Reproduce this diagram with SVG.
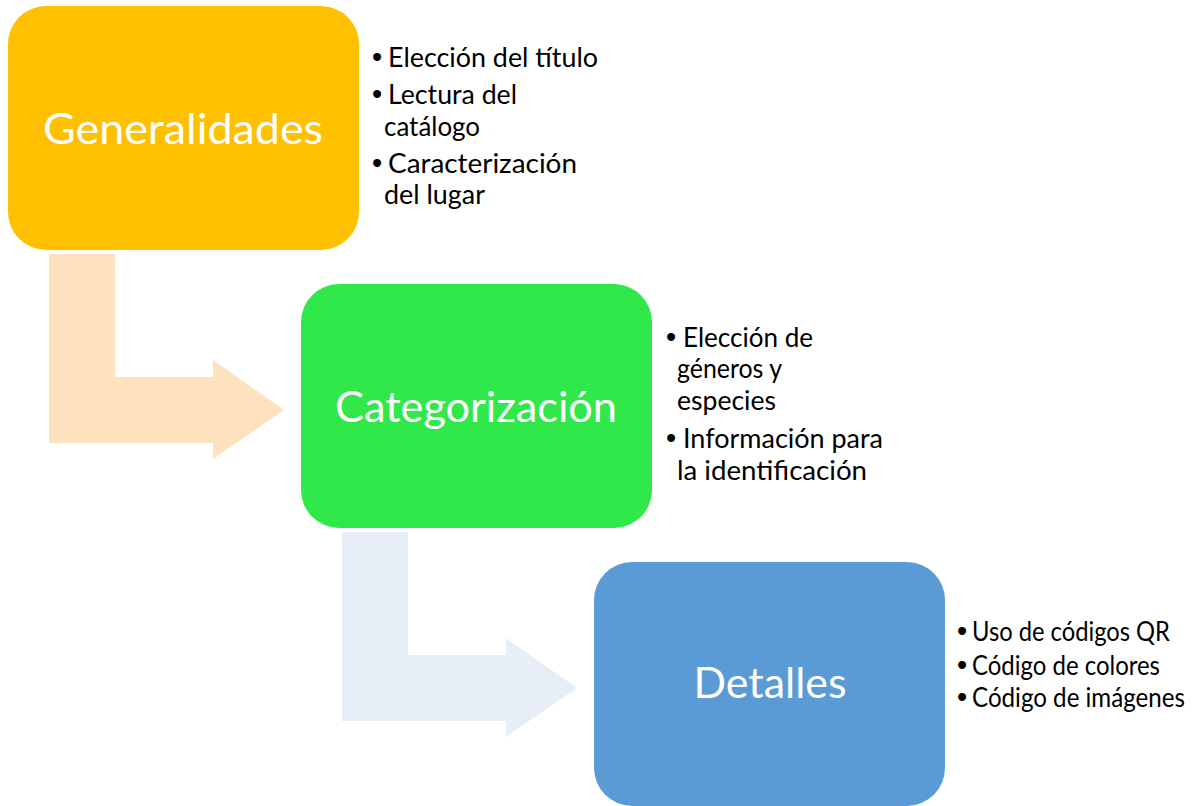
<svg xmlns="http://www.w3.org/2000/svg" width="1196" height="806" viewBox="0 0 1196 806">
  <style>
    .title { font-family: Lato, "Open Sans", sans-serif; font-size: 42px; fill: #FFFFFF; text-anchor: middle; }
    .item { font-family: Lato, "Open Sans", sans-serif; font-size: 26px; fill: #000000; }
    .dot { font-family: "Liberation Sans", sans-serif; font-size: 29px; }
    .box { stroke: none; }
  </style>
  <rect width="1196" height="806" fill="#FFFFFF"/>
  <g id="connectors">
    <path id="arrow1" d="M49,254 H115 V377 H213 V360 L284,410 L213,459 V443 H49 Z" fill="#FEE1BF"/>
    <path id="arrow2" d="M342,532 H408 V655 H506 V638 L577,688 L506,737 V721 H342 Z" fill="#E8EEF7"/>
  </g>
  <g id="generalidades">
    <rect class="box" x="8" y="6" width="351" height="244" rx="38" ry="38" fill="#FFC000"/>
    <text class="title" x="183" y="144" textLength="280" lengthAdjust="spacingAndGlyphs">Generalidades</text>
    <text class="item" x="372" y="67"><tspan class="dot">•</tspan><tspan x="388" textLength="210" lengthAdjust="spacingAndGlyphs">Elección del título</tspan></text>
    <text class="item" x="372" y="104"><tspan class="dot">•</tspan><tspan x="388" textLength="129" lengthAdjust="spacingAndGlyphs">Lectura del</tspan></text>
    <text class="item" x="384" y="136" textLength="96" lengthAdjust="spacingAndGlyphs">catálogo</text>
    <text class="item" x="372" y="173"><tspan class="dot">•</tspan><tspan x="388" textLength="189" lengthAdjust="spacingAndGlyphs">Caracterización</tspan></text>
    <text class="item" x="384" y="204" textLength="101" lengthAdjust="spacingAndGlyphs">del lugar</text>
  </g>
  <g id="categorizacion">
    <rect class="box" x="301" y="284" width="351" height="244" rx="38" ry="38" fill="#31E84A"/>
    <text class="title" x="476" y="422" textLength="282" lengthAdjust="spacingAndGlyphs">Categorización</text>
    <text class="item" x="666" y="347"><tspan class="dot">•</tspan><tspan x="683" textLength="130" lengthAdjust="spacingAndGlyphs">Elección de</tspan></text>
    <text class="item" x="677" y="378" textLength="105" lengthAdjust="spacingAndGlyphs">géneros y</text>
    <text class="item" x="677" y="410" textLength="99" lengthAdjust="spacingAndGlyphs">especies</text>
    <text class="item" x="666" y="448"><tspan class="dot">•</tspan><tspan x="683" textLength="200" lengthAdjust="spacingAndGlyphs">Información para</tspan></text>
    <text class="item" x="677" y="480" textLength="190" lengthAdjust="spacingAndGlyphs">la identificación</text>
  </g>
  <g id="detalles">
    <rect class="box" x="594" y="562" width="351" height="244" rx="38" ry="38" fill="#5B9BD5"/>
    <text class="title" x="770" y="698" textLength="153" lengthAdjust="spacingAndGlyphs">Detalles</text>
    <text class="item" x="957" y="641"><tspan class="dot">•</tspan><tspan x="972" textLength="198" lengthAdjust="spacingAndGlyphs">Uso de códigos QR</tspan></text>
    <text class="item" x="957" y="675"><tspan class="dot">•</tspan><tspan x="972" textLength="188" lengthAdjust="spacingAndGlyphs">Código de colores</tspan></text>
    <text class="item" x="957" y="707"><tspan class="dot">•</tspan><tspan x="972" textLength="213" lengthAdjust="spacingAndGlyphs">Código de imágenes</tspan></text>
  </g>
</svg>
